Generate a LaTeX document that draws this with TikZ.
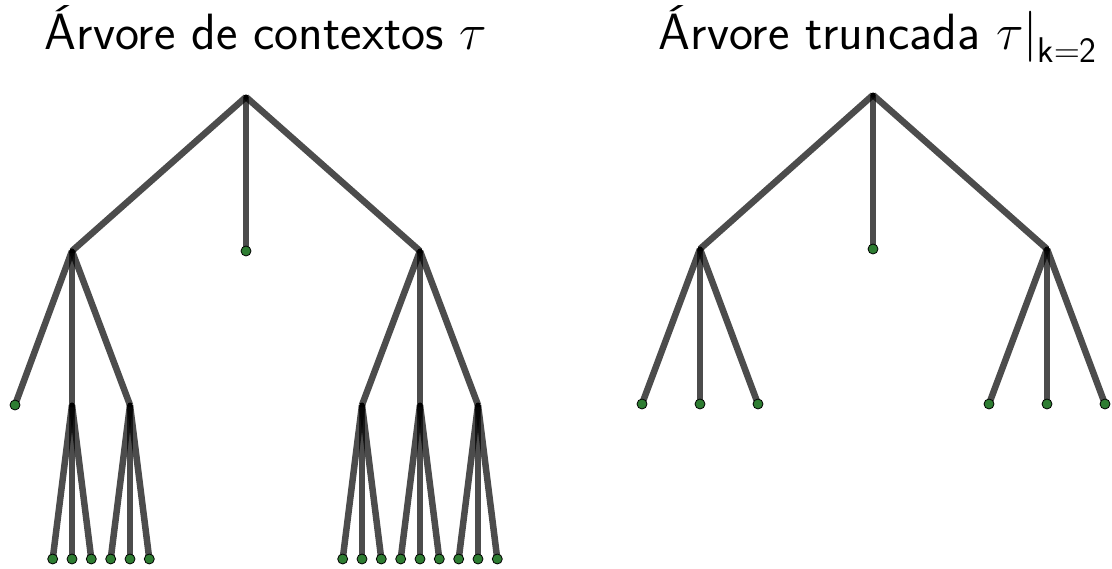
\RequirePackage{fix-cm}
\documentclass[tikz,border=0pt]{standalone}
\usepackage{amsmath}
\usepackage{fontspec}
\begin{document}
\begin{tikzpicture}[x=1pt,y=-1pt,
  edge/.style={draw=black,draw opacity=0.7,line width=6.5pt},
  inner/.style={circle,fill=black,inner sep=0pt,minimum size=5pt},
  leaf/.style={circle,fill=leafgreen,draw=black,line width=0.8pt,inner sep=0pt,minimum size=10pt},
  title/.style={font=\sffamily\fontsize{51}{60}\selectfont,anchor=base}]
\definecolor{leafgreen}{RGB}{46,125,50}
\useasboundingbox (0,0) rectangle (1112,569);
% titles
\node[title] (t1) at (266,50) {Árvore de contextos $\tau$};
\node[title] (t2) at (878,50) {Árvore truncada $\tau\rvert_{\raisebox{-5pt}{$\scriptstyle\mathsf{k}=\mathsf{2}$}}$};
% left tree coordinates
\coordinate (r) at (246,97);
\coordinate (a) at (72,251);
\coordinate (b) at (246,251);
\coordinate (c) at (420,251);
\coordinate (a1) at (15,405);
\coordinate (a2) at (72,405);
\coordinate (a3) at (130,405);
\coordinate (c1) at (362,405);
\coordinate (c2) at (420,405);
\coordinate (c3) at (478,405);
\foreach \n/\x in {a2/72,a3/130,c1/362,c2/420,c3/478}{
  \coordinate (\n l) at (\x-19.3,559);
  \coordinate (\n m) at (\x,559);
  \coordinate (\n r) at (\x+19.3,559);
}
% right tree
\coordinate (R) at (873,95);
\coordinate (A) at (700,249);
\coordinate (B) at (873,249);
\coordinate (C) at (1047,249);
\coordinate (A1) at (642,404);
\coordinate (A2) at (700,404);
\coordinate (A3) at (758,404);
\coordinate (C1) at (989,404);
\coordinate (C2) at (1047,404);
\coordinate (C3) at (1105,404);
% edges
\foreach \u/\v in {r/a,r/b,r/c,a/a1,a/a2,a/a3,c/c1,c/c2,c/c3,
  R/A,R/B,R/C,A/A1,A/A2,A/A3,C/C1,C/C2,C/C3}
  \draw[edge] (\u) -- (\v);
\foreach \n in {a2,a3,c1,c2,c3}{
  \draw[edge] (\n) -- (\n l);
  \draw[edge] (\n) -- (\n m);
  \draw[edge] (\n) -- (\n r);
}
% nodes
\foreach \n in {r,a,c,a2,a3,c1,c2,c3,R,A,C}
  \node[inner] at (\n) {};
\foreach \n in {b,a1,B,A1,A2,A3,C1,C2,C3}
  \node[leaf] at (\n) {};
\foreach \n in {a2,a3,c1,c2,c3}{
  \node[leaf] at (\n l) {};
  \node[leaf] at (\n m) {};
  \node[leaf] at (\n r) {};
}
\end{tikzpicture}
\end{document}
